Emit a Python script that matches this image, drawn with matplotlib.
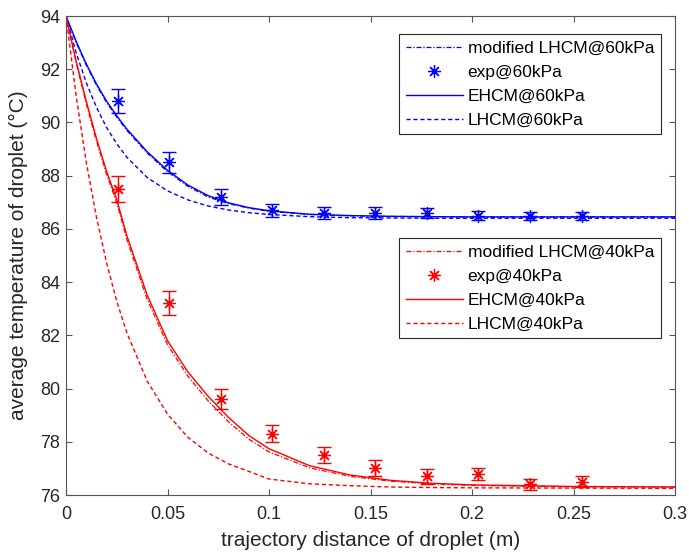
import matplotlib
matplotlib.use("Agg")
import matplotlib.pyplot as plt

plt.rcParams['font.family'] = ['Liberation Sans', 'DejaVu Sans']

# model curve sampling positions (m)
x_model = [0, .005, .01, .015, .02, .025, .03, .04, .05, .06, .07, .08, .09,
           .10, .12, .14, .16, .18, .20, .25, .30]

# 60 kPa curves
ehcm60 = [94.0, 93.05, 92.2, 91.45, 90.8, 90.25, 89.75, 88.9, 88.2, 87.65, 87.25,
          86.98, 86.8, 86.68, 86.55, 86.5, 86.47, 86.46, 86.45, 86.45, 86.45]
mod60 = [94.0, 93.0, 92.15, 91.4, 90.75, 90.2, 89.7, 88.85, 88.15, 87.6, 87.2,
         86.95, 86.78, 86.66, 86.54, 86.49, 86.47, 86.46, 86.45, 86.45, 86.45]
lhcm60 = [94.0, 92.62, 91.49, 90.57, 89.81, 89.2, 88.69, 87.93, 87.43, 87.09, 86.86,
          86.71, 86.61, 86.54, 86.46, 86.42, 86.41, 86.4, 86.4, 86.4, 86.4]

# 40 kPa curves
ehcm40 = [94.0, 92.3, 90.8, 89.4, 88.16, 87.1, 85.74, 83.51, 81.8, 80.63, 79.71,
          78.92, 78.24, 77.74, 77.1, 76.75, 76.55, 76.44, 76.38, 76.32, 76.3]
mod40 = [94.0, 92.25, 90.7, 89.3, 88.05, 86.98, 85.6, 83.35, 81.65, 80.47, 79.54,
         78.76, 78.1, 77.62, 77.02, 76.7, 76.52, 76.42, 76.36, 76.31, 76.3]
lhcm40 = [94.0, 91.0, 88.5, 86.44, 84.72, 83.28, 82.09, 80.28, 79.04, 78.17, 77.58,
          77.17, 76.89, 76.6, 76.42, 76.35, 76.3, 76.28, 76.27, 76.26, 76.25]

# experiments
x_exp = [0.0254, 0.0508, 0.0762, 0.1016, 0.127, 0.1524, 0.1778, 0.2032, 0.2286, 0.254]
exp60 = [90.8, 88.5, 87.2, 86.7, 86.6, 86.6, 86.6, 86.5, 86.5, 86.5]
err60 = [0.45, 0.4, 0.3, 0.25, 0.22, 0.22, 0.2, 0.18, 0.15, 0.15]
exp40 = [87.5, 83.2, 79.6, 78.3, 77.5, 77.0, 76.7, 76.8, 76.4, 76.5]
err40 = [0.5, 0.45, 0.38, 0.32, 0.3, 0.3, 0.28, 0.22, 0.2, 0.2]

xticks = [0, 0.05, 0.1, 0.15, 0.2, 0.25, 0.3]
xticklabels = ['0', '0.05', '0.1', '0.15', '0.2', '0.25', '0.3']
yticks = [76, 78, 80, 82, 84, 86, 88, 90, 92, 94]

W, H = 689, 558
L, R, T, B = 66, 675, 16, 495
fig = plt.figure(figsize=(W/100, H/100), dpi=100)
ax = fig.add_axes([L/W, 1-B/H, (R-L)/W, (B-T)/H])

blue = '#0000ff'
red = '#ff0000'
ast = (8, 2, 0)
dashdot = (0, (4, 1.5, 1, 1.5))
dashed = (0, (3, 2))

l1, = ax.plot(x_model, mod60, color=blue, lw=0.9, ls=dashdot)
ax.errorbar(x_exp, exp60, yerr=err60, fmt='none', ecolor=blue, elinewidth=1.0,
            capsize=5, capthick=1.0)
m1, = ax.plot(x_exp, exp60, ls='none', marker=ast, ms=9, mec=blue, mew=0.9, color=blue)
l2, = ax.plot(x_model, ehcm60, color=blue, lw=1.0, ls='-')
l3, = ax.plot(x_model, lhcm60, color=blue, lw=1.0, ls=dashed)

r1, = ax.plot(x_model, mod40, color=red, lw=0.9, ls=dashdot)
ax.errorbar(x_exp, exp40, yerr=err40, fmt='none', ecolor=red, elinewidth=1.0,
            capsize=5, capthick=1.0)
n1, = ax.plot(x_exp, exp40, ls='none', marker=ast, ms=9, mec=red, mew=0.9, color=red)
r2, = ax.plot(x_model, ehcm40, color=red, lw=1.0, ls='-')
r3, = ax.plot(x_model, lhcm40, color=red, lw=1.0, ls=dashed)

ax.set_xlim(0, 0.3)
ax.set_ylim(76, 94)
ax.set_xticks(xticks)
ax.set_xticklabels(xticklabels)
ax.set_yticks(yticks)
ax.tick_params(direction='in', top=True, right=True, length=4.5, width=0.8,
               labelsize=13, labelcolor='#262626', color='#555555')
ax.tick_params(axis='x', pad=8)
ax.tick_params(axis='y', pad=4)
for sp in ax.spines.values():
    sp.set_color('#555555')
    sp.set_linewidth(0.8)

ax.set_xlabel('trajectory distance of droplet (m)', fontsize=15, color='#262626')
ax.set_ylabel('average temperature of droplet (°C)', fontsize=15, color='#262626')
ax.yaxis.set_label_coords(-(L-28)/(R-L), 0.5)
ax.xaxis.set_label_coords(0.5, -(531-B)/(B-T))

leg_kw = dict(fontsize=12.5, frameon=True, fancybox=False, edgecolor='#262626',
              framealpha=1, handlelength=3.3, borderpad=0.38, labelspacing=0.51,
              handletextpad=0.28, borderaxespad=0)
leg1 = ax.legend([l1, m1, l2, l3],
                 ['modified LHCM@60kPa', 'exp@60kPa', 'EHCM@60kPa', 'LHCM@60kPa'],
                 loc='upper left', bbox_to_anchor=((399-L)/(R-L), 1-(34-T)/(B-T)), **leg_kw)
leg1.get_frame().set_linewidth(0.8)
ax.add_artist(leg1)
leg2 = ax.legend([r1, n1, r2, r3],
                 ['modified LHCM@40kPa', 'exp@40kPa', 'EHCM@40kPa', 'LHCM@40kPa'],
                 loc='upper left', bbox_to_anchor=((399-L)/(R-L), 1-(238-T)/(B-T)), **leg_kw)
leg2.get_frame().set_linewidth(0.8)

fig.savefig('out.png', dpi=100)
